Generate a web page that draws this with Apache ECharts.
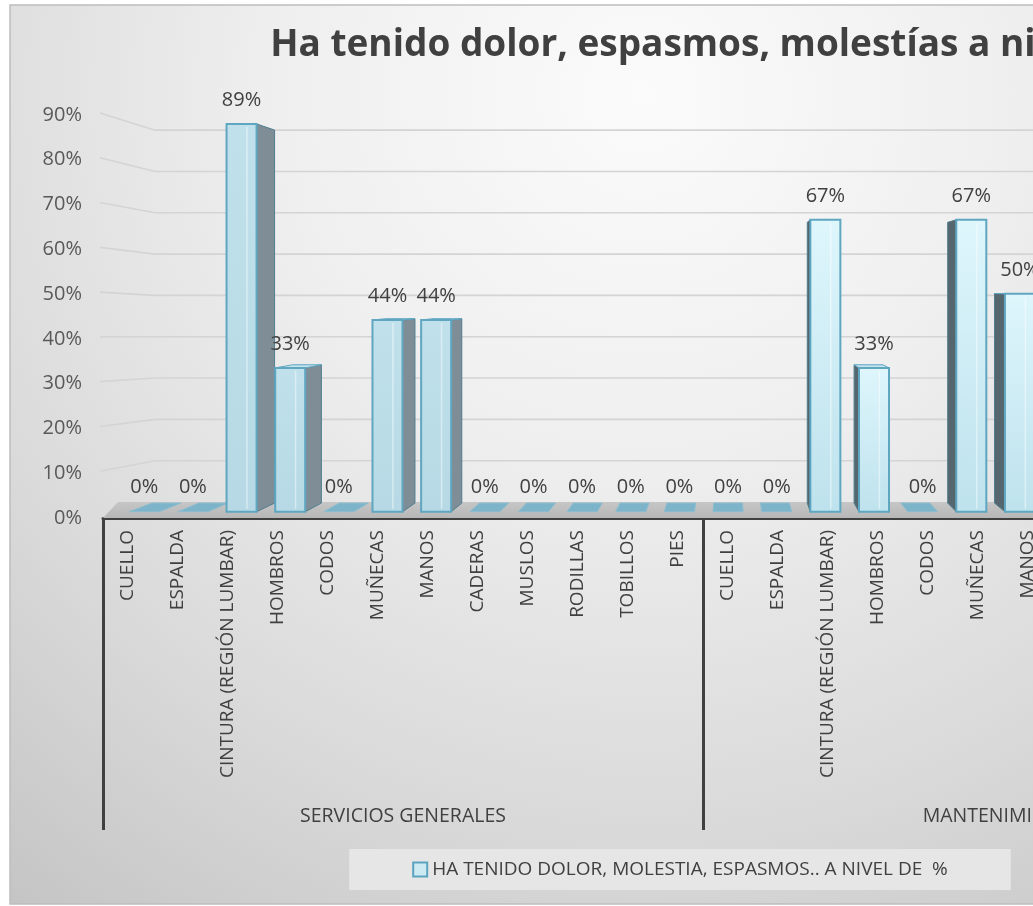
<!DOCTYPE html>
<html>
<head>
<meta charset="utf-8">
<script src="https://cdn.jsdelivr.net/npm/echarts@6/dist/echarts.min.js"></script>
<style>
  html, body { margin: 0; padding: 0; background: #ffffff; overflow: hidden; }
  #chart { position: absolute; left: 0; top: 0; width: 1360px; height: 906px; }
</style>
</head>
<body>
<div id="chart"></div>
<script>
// Body regions asked about in each area
const bodyParts = ['CUELLO', 'ESPALDA', 'CINTURA (REGIÓN LUMBAR)', 'HOMBROS', 'CODOS', 'MUÑECAS',
  'MANOS', 'CADERAS', 'MUSLOS', 'RODILLAS', 'TOBILLOS', 'PIES'];
const areas = ['SERVICIOS GENERALES', 'MANTENIMIENTO'];

// Percentage of workers reporting pain per body region
const serviciosGenerales = [0, 0, 89, 33, 0, 44, 44, 0, 0, 0, 0, 0];
const mantenimiento = [0, 0, 67, 33, 0, 67, 50, null, null, null, null, null];

// Value axis ticks
const yTicks = [0, 10, 20, 30, 40, 50, 60, 70, 80, 90];

const seriesName = 'HA TENIDO DOLOR, MOLESTIA, ESPASMOS.. A NIVEL DE  %';
const titleText = 'Ha tenido dolor, espasmos, molestías a nivel';

const categories = bodyParts.concat(bodyParts);
const values = serviciosGenerales.concat(mantenimiento);
const barData = values.map((v, i) => [i, v]);

const FONT = 'Open Sans';

// Perspective used for the pseudo 3D look
const BAR_VP = [730, 285];   // vanishing point for the columns
const BAR_F1 = 0.027;        // depth of column front faces
const BAR_F2 = 0.064;        // depth of column back faces
const BAR_RATIO = 0.617;     // column width relative to the category band
const WALL_VP = [776, 311];  // vanishing point for the back wall
const WALL_F = 0.0773;       // depth of the back wall

function proj(x, y, f, vp) {
  return [x + f * (vp[0] - x), y + f * (vp[1] - y)];
}

function renderColumn(params, api) {
  const v = api.value(1);
  if (v === null || v === undefined || isNaN(v)) return;
  const idx = api.value(0);
  const top = api.coord([idx, v]);
  const base = api.coord([idx, 0]);
  const band = api.size([1, 0])[0];
  const hw = band * BAR_RATIO / 2;
  const xl = top[0] - hw, xr = top[0] + hw;

  const fTL = proj(xl, top[1], BAR_F1, BAR_VP);
  const fTR = proj(xr, top[1], BAR_F1, BAR_VP);
  const fBL = proj(xl, base[1], BAR_F1, BAR_VP);
  const fBR = proj(xr, base[1], BAR_F1, BAR_VP);
  const bTL = proj(xl, top[1], BAR_F2, BAR_VP);
  const bTR = proj(xr, top[1], BAR_F2, BAR_VP);
  const bBL = proj(xl, base[1], BAR_F2, BAR_VP);
  const bBR = proj(xr, base[1], BAR_F2, BAR_VP);

  const leftOfVp = top[0] < BAR_VP[0];
  const children = [];
  const edge = '#5fa6c1';

  if (v > 0) {
    // side face
    const sidePts = leftOfVp ? [fTR, bTR, bBR, fBR] : [fTL, bTL, bBL, fBL];
    children.push({
      type: 'polygon',
      shape: { points: sidePts },
      style: { fill: leftOfVp ? '#7f8e96' : '#56666e', stroke: '#4f7d8f', lineWidth: 1 }
    });
    // top face, only seen when the column top sits below the eye line
    if (top[1] > BAR_VP[1]) {
      children.push({
        type: 'polygon',
        shape: { points: [fTL, fTR, bTR, bTL] },
        style: { fill: '#c4e3ec', stroke: edge, lineWidth: 1 }
      });
    }
    // front face
    children.push({
      type: 'polygon',
      shape: { points: [fTL, fTR, fBR, fBL] },
      style: {
        fill: {
          type: 'linear', x: 0, y: 0, x2: 0, y2: 1,
          colorStops: leftOfVp
            ? [{ offset: 0, color: '#c0e1eb' }, { offset: 1, color: '#b6d9e5' }]
            : [{ offset: 0, color: '#def6fc' }, { offset: 1, color: '#bee2ed' }]
        },
        stroke: edge, lineWidth: 2
      }
    });
    // inner highlight line on the front face
    const lx = fTL[0] + (fTR[0] - fTL[0]) * 0.68;
    children.push({
      type: 'line',
      shape: { x1: lx, y1: fTL[1] + 3, x2: lx, y2: fBL[1] - 3 },
      style: { stroke: 'rgba(255,255,255,0.45)', lineWidth: 1.5 }
    });
  } else {
    // flat plate for zero values
    children.push({
      type: 'polygon',
      shape: { points: [fBL, fBR, bBR, bBL] },
      style: { fill: '#7db4c9', stroke: '#8cbdd0', lineWidth: 1 }
    });
  }

  children.push({
    type: 'text',
    style: {
      text: v + '%',
      x: (fTL[0] + fTR[0]) / 2,
      y: fTL[1] - 24,
      align: 'center',
      verticalAlign: 'middle',
      fill: '#404040',
      font: '20px "' + FONT + '"'
    }
  });

  return { type: 'group', children: children };
}

function renderWalls(params, api) {
  const cs = params.coordSys;
  const left = cs.x;
  const right = cs.x + cs.width + 60;
  const children = [];
  // back-wall gridlines with their slanted part on the side wall
  yTicks.forEach(t => {
    if (t === 0) return;
    const y = api.coord([0, t])[1];
    const back = proj(left, y, WALL_F, WALL_VP);
    children.push({
      type: 'polyline',
      shape: { points: [[left - 3, y - 2], back, [right, back[1]]] },
      style: { stroke: '#d4d4d4', lineWidth: 1.6, fill: null }
    });
  });
  // floor
  const y0 = api.coord([0, 0])[1];
  const floorBack = proj(left, y0, WALL_F, WALL_VP)[1];
  children.push({
    type: 'polygon',
    shape: { points: [[left, y0], [left + 15, floorBack], [right, floorBack], [right, y0]] },
    style: {
      fill: {
        type: 'linear', x: 0, y: 0, x2: 0, y2: 1,
        colorStops: [{ offset: 0, color: '#c6c6c6' }, { offset: 1, color: '#b7b7b7' }]
      }
    }
  });
  return { type: 'group', children: children };
}

const chart = echarts.init(document.getElementById('chart'), null, { renderer: 'canvas' });

chart.setOption({
  backgroundColor: '#ffffff',
  animation: false,
  graphic: [{
    type: 'rect',
    z: -10,
    silent: true,
    shape: { x: 10, y: 5, width: 1345, height: 899 },
    style: {
      fill: {
        type: 'radial', x: 0.47, y: 0.1, r: 1.15,
        colorStops: [
          { offset: 0, color: '#fbfbfb' },
          { offset: 0.35, color: '#efefef' },
          { offset: 0.7, color: '#dadada' },
          { offset: 1, color: '#c4c4c4' }
        ]
      },
      stroke: '#bdbdbd',
      lineWidth: 1.5
    }
  }],
  title: {
    text: titleText,
    left: 'center',
    top: 22,
    textStyle: { fontFamily: FONT, fontSize: 37, fontWeight: 'bold', color: '#404040' }
  },
  legend: {
    data: [{ name: seriesName, icon: 'rect' }],
    left: 'center',
    top: 849,
    padding: [11, 63],
    backgroundColor: 'rgba(232,232,232,0.9)',
    itemWidth: 14,
    itemHeight: 14,
    itemGap: 5,
    textStyle: { fontFamily: FONT, fontSize: 19, color: '#404040' }
  },
  grid: { left: 103, top: 115, width: 1200, height: 403 },
  xAxis: [{
    type: 'category',
    data: categories,
    position: 'bottom',
    axisLine: { show: true, lineStyle: { color: '#404040', width: 3 } },
    axisTick: { show: false },
    axisLabel: {
      interval: 0, rotate: 90, margin: 12,
      fontFamily: FONT, fontSize: 19, color: '#404040'
    },
    splitLine: { show: false }
  }, {
    type: 'category',
    data: areas,
    position: 'bottom',
    axisLine: { show: false },
    axisTick: { show: true, length: 312, lineStyle: { color: '#404040', width: 3 } },
    axisLabel: { margin: 288, fontFamily: FONT, fontSize: 19.5, color: '#404040' },
    splitLine: { show: false }
  }],
  yAxis: {
    type: 'value',
    min: 0, max: 90, interval: 10,
    axisLine: { show: false },
    axisTick: { show: false },
    splitLine: { show: false },
    axisLabel: {
      formatter: v => v + '%',
      margin: 21,
      fontFamily: FONT, fontSize: 20, color: '#595959'
    }
  },
  series: [{
    type: 'custom',
    name: 'walls',
    z: 1,
    silent: true,
    renderItem: renderWalls,
    data: [[0, 0]]
  }, {
    type: 'custom',
    name: seriesName,
    z: 3,
    renderItem: renderColumn,
    itemStyle: { color: '#cde9f2', borderColor: '#5ba3bf', borderWidth: 2 },
    data: barData
  }]
});
</script>
</body>
</html>
